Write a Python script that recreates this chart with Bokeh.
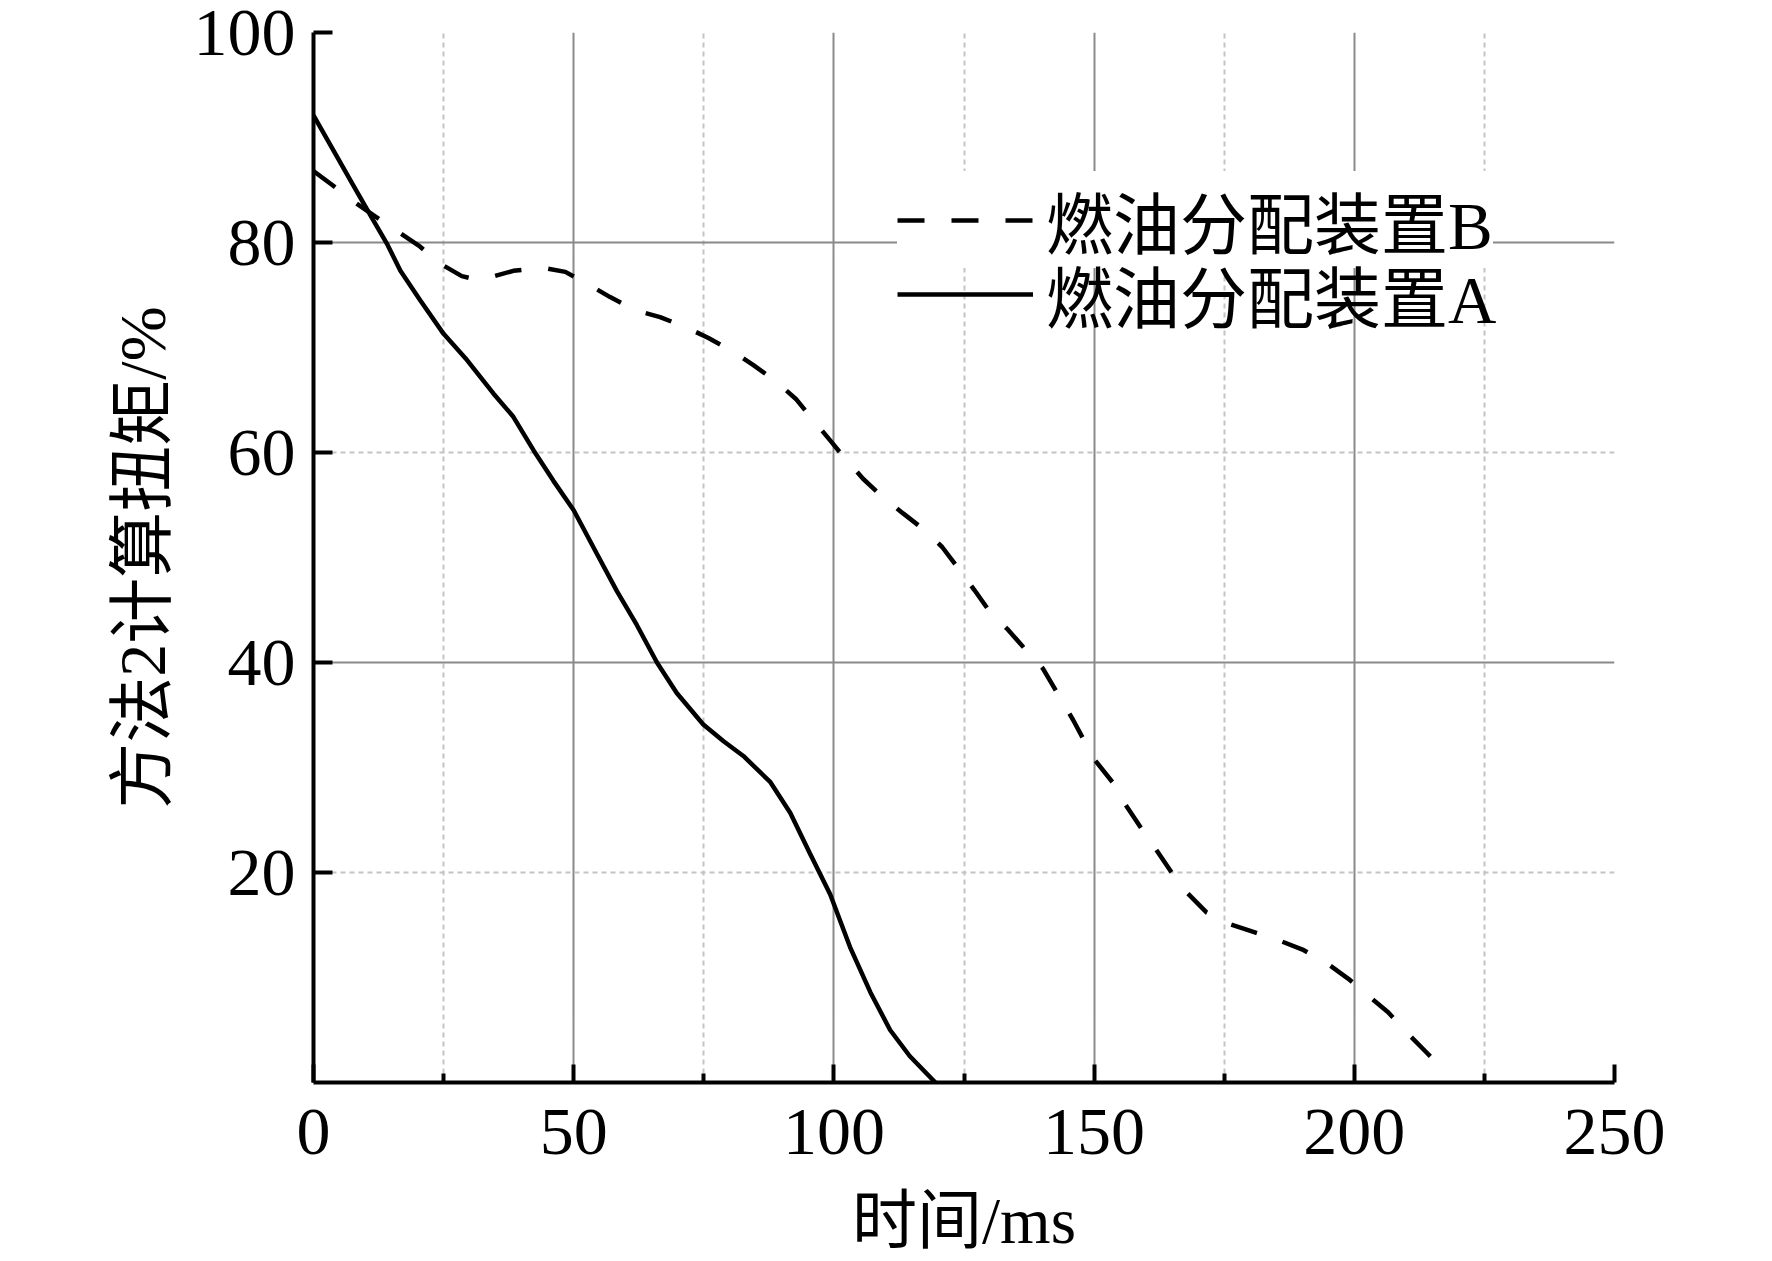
from bokeh.plotting import figure
from bokeh.models import Range1d, FixedTicker, Legend, LegendItem
from bokeh.embed import file_html
from bokeh.resources import INLINE

# ---- data ----
time_a = [0, 3.8, 7.7, 11.5, 14.1, 16.7, 20.5, 25, 29.5, 34.6, 38.4, 42.3, 46.1, 50,
          54.4, 58.3, 62.1, 66, 69.8, 74.9, 78.8, 82.6, 87.8, 91.6, 95.4, 99.3,
          103.1, 107, 110.8, 114.6, 119.5]
torque_a = [92.1, 88.8, 85.4, 82.1, 79.9, 77.3, 74.5, 71.3, 68.8, 65.6, 63.4, 60.2, 57.3, 54.5,
            50.4, 46.8, 43.6, 40, 37.1, 34.1, 32.5, 31.1, 28.6, 25.7, 21.8, 17.9,
            12.9, 8.6, 5, 2.5, 0]

time_b = [0, 3.8, 8.3, 11.5, 16.3, 20.5, 24.3, 28.5, 31, 34, 38.4, 43.9, 48.4, 53.2, 57,
          62.1, 66.6, 71.7, 75.9, 80.7, 84.6, 88.8, 92.7, 96, 99.2, 102.2, 105.6,
          109.5, 113.3, 117.2, 120.8, 124, 127, 130, 133.5, 136.7, 140.2, 142.8, 146,
          150, 153.7, 156.1, 158.8, 161.9, 164.9, 167.8, 171.6, 176, 180.9, 185.2,
          190.3, 194.6, 198.8, 202.6, 206.5, 210, 213.6, 217]
torque_b = [86.8, 85.4, 83.7, 82.6, 81, 79.6, 78, 76.8, 76.5, 76.7, 77.3, 77.6, 77.2, 75.9, 74.8,
            73.5, 72.9, 71.9, 70.9, 69.6, 68.3, 66.8, 65.1, 63.1, 61.2, 59.4, 57.5,
            55.7, 54.2, 52.7, 51, 48.9, 46.9, 44.8, 43.1, 41.3, 39.4, 37.2, 34.5,
            30.8, 28.5, 26.4, 24.4, 22.2, 20, 18.1, 16.2, 15.1, 14.3, 13.6,
            12.6, 11.4, 9.9, 8.3, 6.7, 4.8, 3, 1.3]

label_a = "燃油分配装置A"
label_b = "燃油分配装置B"
x_title = "时间/ms"
y_title = "方法2计算扭矩/%"

x_major = [0, 50, 100, 150, 200, 250]
x_minor = [25, 75, 125, 175, 225]
x_grid_major = [50, 100, 150, 200]
y_major = [20, 40, 60, 80, 100]
y_grid_major = [40, 80]
y_grid_minor = [20, 60]

FONT = "Liberation Serif, Noto Sans CJK SC"

p = figure(width=1772, height=1261, output_backend="svg", toolbar_location=None,
           x_range=Range1d(0, 250), y_range=Range1d(0, 100),
           min_border_left=313, min_border_right=158,
           min_border_top=32, min_border_bottom=179)
p.outline_line_color = None
p.background_fill_color = "white"
p.border_fill_color = "white"

# axes
p.xaxis.ticker = FixedTicker(ticks=x_major, minor_ticks=x_minor)
p.yaxis.ticker = FixedTicker(ticks=y_major)
for ax in (p.xaxis[0], p.yaxis[0]):
    ax.axis_line_width = 4
    ax.axis_line_color = "black"
    ax.major_tick_line_width = 4
    ax.major_tick_line_color = "black"
    ax.minor_tick_line_width = 4
    ax.minor_tick_line_color = "black"
    ax.major_tick_in = 18
    ax.major_tick_out = 0
    ax.minor_tick_in = 9
    ax.minor_tick_out = 0
    ax.major_label_text_font = FONT
    ax.major_label_text_font_size = "68px"
    ax.major_label_text_color = "black"
    ax.axis_label_text_font = FONT
    ax.axis_label_text_font_style = "normal"
    ax.axis_label_text_color = "black"

p.xaxis.axis_label = x_title
p.xaxis.axis_label_text_font_size = "65px"
p.xaxis.major_label_standoff = 27
p.xaxis.axis_label_standoff = 28

p.yaxis.axis_label = y_title
p.yaxis.axis_label_text_font_size = "66px"
p.yaxis.major_label_standoff = 18
p.yaxis.axis_label_standoff = 12
p.yaxis.major_tick_in = 19

# grids
p.xgrid.ticker = FixedTicker(ticks=x_grid_major, minor_ticks=x_minor)
p.ygrid.ticker = FixedTicker(ticks=y_grid_major, minor_ticks=y_grid_minor)
for g in (p.xgrid[0], p.ygrid[0]):
    g.grid_line_color = "#8a8a8a"
    g.grid_line_width = 2
    g.minor_grid_line_color = "#c4c4c4"
    g.minor_grid_line_width = 2
    g.minor_grid_line_dash = "5 4"

# lines
rB = p.line(time_b, torque_b, line_color="black", line_width=4.5, line_dash="27 27")
rA = p.line(time_a, torque_a, line_color="black", line_width=4.5)


def make_legend(label, renderer, loc, bg_alpha):
    lg = Legend(items=[LegendItem(label=label, renderers=[renderer])], location=loc)
    lg.glyph_width = 136
    lg.glyph_height = 74
    lg.label_height = 74
    lg.label_standoff = 13
    lg.padding = 0
    lg.spacing = 0
    lg.margin = 0
    lg.border_line_color = None
    lg.background_fill_color = "white"
    lg.background_fill_alpha = bg_alpha
    lg.label_text_font = FONT
    lg.label_text_font_size = "67px"
    lg.label_text_color = "black"
    return lg


# B first (opaque, hides the 80 grid line), then A on top with a clear background
p.add_layout(make_legend(label_b, rB, (584, 814), 1.0))
p.add_layout(make_legend(label_a, rA, (584, 740), 0.0))

open("out.html", "w").write(file_html(p, INLINE))
